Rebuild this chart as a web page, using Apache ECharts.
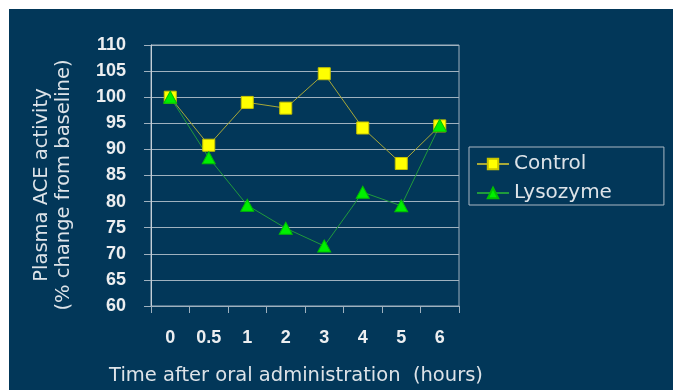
<!DOCTYPE html>
<html>
<head>
<meta charset="utf-8">
<script src="https://cdn.jsdelivr.net/npm/echarts@6/dist/echarts.min.js"></script>
<style>
  html, body { margin: 0; padding: 0; background: #ffffff; }
  #chart { width: 673px; height: 390px; }
</style>
</head>
<body>
<div id="chart"></div>
<script>
// Time points after oral administration (hours)
const timePoints = ['0', '0.5', '1', '2', '3', '4', '5', '6'];
// Plasma ACE activity, % change from baseline
const controlValues = [100, 90.8, 99, 97.9, 104.5, 94.1, 87.3, 94.5];
const lysozymeValues = [100, 88.4, 79.3, 74.9, 71.5, 81.8, 79.2, 94.6];
const yTicks = { min: 60, max: 110, step: 5 };

const panelColor = '#023759';
const gridColor = '#9fb1bf';
const textColor = '#dde3e8';

const chart = echarts.init(document.getElementById('chart'), null, { renderer: 'canvas' });

chart.setOption({
  backgroundColor: '#ffffff',
  animation: false,
  graphic: [
    {
      type: 'rect', z: -10, silent: true,
      shape: { x: 9, y: 9, width: 664, height: 381 },
      style: { fill: panelColor }
    },
    {
      type: 'text', silent: true,
      x: 53, y: 185, rotation: Math.PI / 2,
      style: {
        text: 'Plasma ACE activity\n(% change from baseline)',
        fill: textColor, font: '19.5px "DejaVu Sans"',
        align: 'center', verticalAlign: 'middle', lineHeight: 22
      }
    },
    {
      type: 'text', silent: true,
      x: 296, y: 376,
      style: {
        text: 'Time after oral administration  (hours)',
        fill: textColor, font: '19.5px "DejaVu Sans"',
        align: 'center', verticalAlign: 'middle'
      }
    }
  ],
  grid: {
    left: 151, top: 45, width: 308, height: 261,
    show: true, borderColor: gridColor, borderWidth: 1,
    backgroundColor: 'transparent'
  },
  legend: {
    left: 469, top: 147,
    orient: 'vertical',
    itemWidth: 32, itemHeight: 13, itemGap: 7,
    padding: [6, 52, 1, 7],
    borderColor: '#aab8c4', borderWidth: 1,
    textStyle: { color: textColor, fontSize: 20, fontFamily: 'DejaVu Sans', lineHeight: 22 },
    data: ['Control', 'Lysozyme']
  },
  xAxis: {
    type: 'category',
    data: timePoints,
    boundaryGap: true,
    axisLine: { lineStyle: { color: gridColor, width: 1 } },
    axisTick: { show: true, length: 7, lineStyle: { color: gridColor } },
    axisLabel: {
      color: '#eceef0', fontSize: 18, fontWeight: 'bold',
      fontFamily: 'Liberation Sans', margin: 23
    },
    splitLine: { show: false }
  },
  yAxis: {
    type: 'value',
    min: yTicks.min, max: yTicks.max, interval: yTicks.step,
    axisLine: { show: true, lineStyle: { color: '#c4cfd8', width: 1 } },
    axisTick: { show: true, length: 7, lineStyle: { color: gridColor } },
    axisLabel: {
      color: '#eceef0', fontSize: 18, fontWeight: 'bold',
      fontFamily: 'Liberation Sans', margin: 25
    },
    splitLine: { show: true, lineStyle: { color: gridColor, width: 1 } }
  },
  series: [
    {
      name: 'Control',
      type: 'line',
      data: controlValues,
      symbol: 'rect',
      symbolSize: 12,
      lineStyle: { color: '#a8a838', width: 1 },
      itemStyle: { color: '#ffff00', borderColor: '#c8c400', borderWidth: 1 }
    },
    {
      name: 'Lysozyme',
      type: 'line',
      data: lysozymeValues,
      symbol: 'triangle',
      symbolSize: [13, 12],
      lineStyle: { color: '#1f9a3c', width: 1 },
      itemStyle: { color: '#00f000', borderColor: '#00c000', borderWidth: 1 }
    }
  ]
});
</script>
</body>
</html>
